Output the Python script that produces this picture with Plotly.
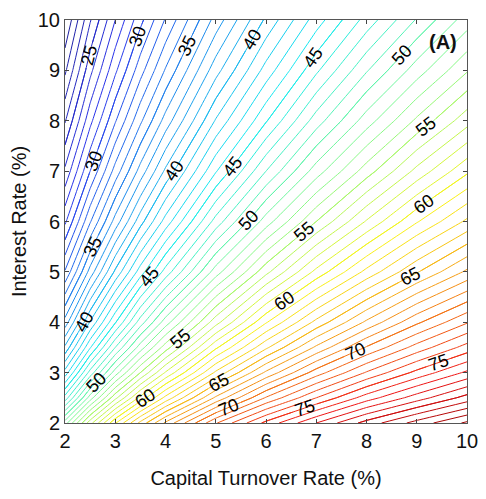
import plotly.graph_objects as go

# Axes values (percent)
capital_turnover = [2, 2.5, 3, 3.5, 4, 5, 6, 7, 8, 9, 10]
interest_rate = [2, 2.5, 3, 3.5, 4, 5, 6, 7, 8, 9, 10]

# Field values (rows: interest rate, cols: capital turnover rate)
z_row_2_0 = [51.5, 56.6, 60.9, 64.3, 67.2, 71.9, 75.3, 78.0, 80.4, 82.4, 84.2]
z_row_2_5 = [46.4, 51.5, 55.7, 59.3, 62.3, 67.2, 71.1, 74.0, 76.5, 78.5, 80.4]
z_row_3_0 = [42.4, 47.4, 51.5, 55.0, 58.1, 63.2, 67.2, 70.5, 73.1, 75.3, 77.2]
z_row_3_5 = [39.2, 43.9, 48.0, 51.5, 54.5, 59.8, 63.8, 67.2, 70.1, 72.4, 74.4]
z_row_4_0 = [36.4, 41.1, 44.9, 48.5, 51.5, 56.6, 60.9, 64.3, 67.2, 69.8, 71.9]
z_row_5_0 = [32.1, 36.4, 40.2, 43.5, 46.4, 51.5, 55.7, 59.3, 62.3, 64.9, 67.2]
z_row_6_0 = [28.8, 32.9, 36.4, 39.6, 42.4, 47.4, 51.5, 55.0, 58.1, 60.9, 63.2]
z_row_7_0 = [26.2, 30.0, 33.4, 36.4, 39.2, 43.9, 48.0, 51.5, 54.5, 57.3, 59.8]
z_row_8_0 = [23.9, 27.7, 30.9, 33.8, 36.4, 41.1, 44.9, 48.5, 51.5, 54.2, 56.6]
z_row_9_0 = [21.8, 25.7, 28.8, 31.6, 34.1, 38.6, 42.4, 45.8, 48.9, 51.5, 53.9]
z_row_10_0 = [20.0, 23.9, 27.0, 29.7, 32.1, 36.4, 40.2, 43.5, 46.4, 49.1, 51.5]

z = [z_row_2_0, z_row_2_5, z_row_3_0, z_row_3_5, z_row_4_0, z_row_5_0,
     z_row_6_0, z_row_7_0, z_row_8_0, z_row_9_0, z_row_10_0]

tick_vals = [2, 3, 4, 5, 6, 7, 8, 9, 10]

jet = [
    [0.0, "rgb(30,30,150)"],
    [0.125, "rgb(40,50,235)"],
    [0.375, "rgb(20,235,240)"],
    [0.5, "rgb(130,250,140)"],
    [0.625, "rgb(250,245,20)"],
    [0.875, "rgb(240,20,20)"],
    [1.0, "rgb(150,0,0)"],
]

fig = go.Figure()

# all contour lines, step 1
fig.add_trace(go.Contour(
    x=capital_turnover, y=interest_rate, z=z,
    colorscale=jet, zmin=20, zmax=85, showscale=False,
    contours=dict(start=20, end=85, size=1, coloring="lines", showlabels=False),
    line=dict(width=1, smoothing=0),
    hoverinfo="skip",
))

# labelled levels (multiples of 5); the wide level span lets plotly place several labels per line
fig.add_trace(go.Contour(
    x=capital_turnover, y=interest_rate, z=z,
    colorscale=jet, zmin=20, zmax=85, showscale=False,
    contours=dict(start=-300, end=455, size=5, coloring="lines", showlabels=True,
                  labelfont=dict(family="Liberation Sans Narrow, Liberation Sans, Arial Narrow, sans-serif",
                                 size=18, color="black")),
    line=dict(width=1, smoothing=0),
    hoverinfo="skip",
))

axis_common = dict(
    range=[2, 10], tickmode="array", tickvals=tick_vals,
    ticks="inside", ticklen=4, tickcolor="#444",
    showline=True, linecolor="#555", linewidth=1, mirror="ticks",
    showgrid=False, zeroline=False, automargin=False,
    tickfont=dict(family="Liberation Sans, Arial, sans-serif", size=20, color="#111"),
)

fig.update_layout(
    width=486, height=499,
    margin=dict(l=65, r=19, t=20, b=76),
    paper_bgcolor="white", plot_bgcolor="white",
    xaxis=dict(**axis_common,
               title=dict(text="Capital Turnover Rate (%)", standoff=19,
                          font=dict(family="Liberation Sans, Arial, sans-serif", size=20, color="#111"))),
    yaxis=dict(**axis_common,
               title=dict(text="Interest Rate (%)", standoff=5,
                          font=dict(family="Liberation Sans, Arial, sans-serif", size=20, color="#111"))),
    annotations=[dict(text="<b>(A)</b>", x=0.94, y=0.945, xref="paper", yref="paper",
                      xanchor="center", yanchor="middle", showarrow=False,
                      font=dict(family="Liberation Sans, Arial, sans-serif", size=20, color="#111"))],
    showlegend=False,
)

fig.write_html("out.html", config={"displayModeBar": False},
               post_script="document.body.style.margin='0px';")
